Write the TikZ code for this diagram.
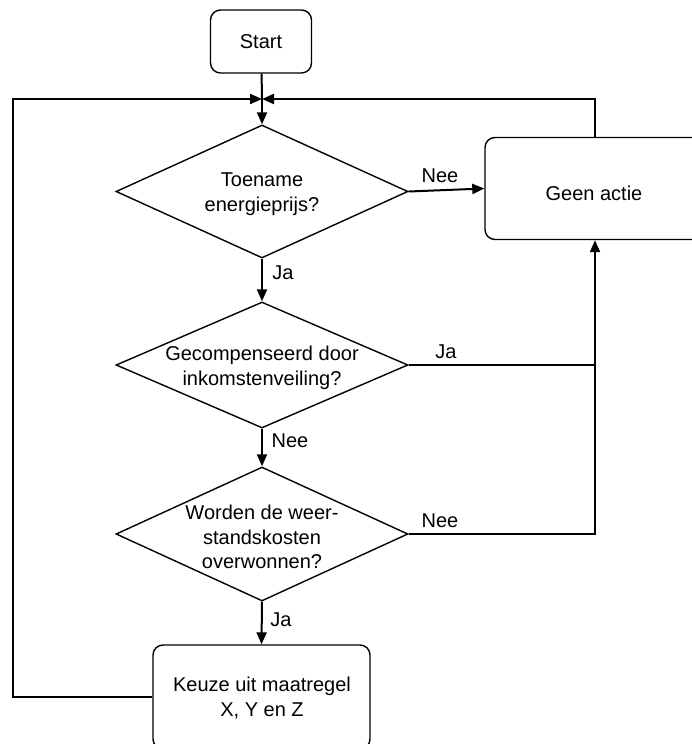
\documentclass[tikz,border=0pt]{standalone}
\usepackage{fontspec}
\setmainfont{Liberation Sans}
\usetikzlibrary{shapes.geometric,arrows.meta}
\begin{document}
\begin{tikzpicture}[x=1pt,y=-1pt,
  box/.style={draw,line width=1.4pt,rounded corners=10pt,inner sep=0pt},
  decision/.style={draw,diamond,line width=1.4pt,inner sep=0pt},
  conn/.style={line width=2pt},
  thinconn/.style={line width=1.2pt},
  tip/.style={-{Triangle[length=12pt,width=10pt]}},
  txt/.style={font=\fontsize{20}{24.5}\selectfont,align=center,inner sep=0pt},
  lbl/.style={font=\fontsize{20}{24}\selectfont,inner sep=0pt}]
\useasboundingbox (0,0) rectangle (692,744);

% process boxes
\node[box,minimum width=101pt,minimum height=63pt] (start) at (261,41.5) {};
\node[box,minimum width=220pt,minimum height=102pt] (geen) at (595,188.5) {};
\node[box,minimum width=217pt,minimum height=104pt] (keuze) at (261.5,697) {};

% decisions
\node[decision,minimum width=292pt,minimum height=133pt] (d1) at (262,191.5) {};
\node[decision,minimum width=292pt,minimum height=126pt] (d2) at (262,365) {};
\node[decision,minimum width=292pt,minimum height=134pt] (d3) at (262,534) {};

% texts
\node[txt] (tstart) at (261,42) {Start};
\node[txt] (tgeen) at (594,193) {Geen actie};
\node[txt] (tkeuze) at (262,698) {Keuze uit maatregel\\X, Y en Z};
\node[txt] (td1) at (262,194) {Toename\\energieprijs?};
\node[txt] (td2) at (262,368) {Gecompenseerd door\\inkomstenveiling?};
\node[txt] (td3) at (262,537) {Worden de weer-\\standskosten\\overwonnen?};

% merge point and left return corner
\coordinate (m) at (262,99);
\coordinate (lc) at (13,99);

% connectors
\draw[conn] (start) -- (m);
\draw[conn,tip] (m) -- (d1.north);
\draw[conn,tip] (keuze.west) -| (lc) -- (m);
\draw[conn,tip] (geen.north) |- (m);
\draw[conn,tip] (d1.east) -- (geen.west);
\draw[conn,tip] (d1.south) -- (d2.north);
\draw[conn,tip] (d2.south) -- (d3.north);
\draw[conn,tip] (d3.south) -- (keuze.north);
\draw[thinconn] (d2.east) -- (d2.east -| geen.south);
\draw[conn,tip] (d3.east) -| (geen.south);

% branch labels
\node[lbl] (l1) at (440,176) {Nee};
\node[lbl] (l2) at (283,273) {Ja};
\node[lbl] (l3) at (446,352) {Ja};
\node[lbl] (l4) at (290,441) {Nee};
\node[lbl] (l5) at (440,521) {Nee};
\node[lbl] (l6) at (281,620) {Ja};
\end{tikzpicture}
\end{document}
